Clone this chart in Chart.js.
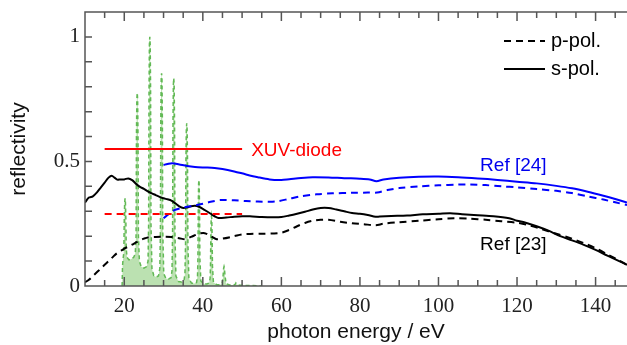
<!DOCTYPE html>
<html>
<head>
<meta charset="utf-8">
<script src="https://cdn.jsdelivr.net/npm/chart.js@4"></script>
<style>
  body { margin: 0; background: #fff; }
</style>
</head>
<body>
<canvas id="grafico" width="627" height="345"></canvas>
<script>
// reflectivity curves (photon energy in eV)
const ref23E = [10, 11, 12, 13, 14, 15, 16, 16.8, 17.5, 18.2, 19, 20, 21, 22, 23, 24, 25, 26, 27, 28, 29, 30, 31, 32, 33, 34, 35, 36, 37, 38, 39, 40, 41, 42, 43, 44, 46, 48, 50, 52, 55, 58, 60, 62, 64, 66, 68, 70, 72, 74, 76, 78, 80, 82, 84, 85, 88, 92, 96, 100, 103, 106, 110, 114, 118, 120, 122, 125, 128, 131, 134, 137, 140, 143, 146, 148];
const ref23S = [0.335, 0.355, 0.36, 0.375, 0.395, 0.415, 0.435, 0.443, 0.435, 0.427, 0.428, 0.428, 0.432, 0.425, 0.41, 0.398, 0.39, 0.38, 0.372, 0.365, 0.358, 0.352, 0.348, 0.343, 0.332, 0.32, 0.313, 0.315, 0.32, 0.322, 0.318, 0.31, 0.3, 0.29, 0.28, 0.273, 0.275, 0.278, 0.28, 0.28, 0.277, 0.276, 0.277, 0.283, 0.29, 0.298, 0.307, 0.313, 0.313, 0.307, 0.3, 0.293, 0.29, 0.285, 0.278, 0.279, 0.281, 0.283, 0.288, 0.29, 0.292, 0.288, 0.284, 0.28, 0.272, 0.262, 0.255, 0.24, 0.222, 0.2, 0.183, 0.165, 0.145, 0.122, 0.1, 0.085];

const ref23pE = [10, 11, 12, 13, 14, 15, 16, 17, 18, 19, 20, 21, 22, 23, 24, 25, 26, 28, 30, 32, 34, 35.5, 37, 39, 40.5, 42, 43.5, 45, 48, 50, 52, 55, 58, 60, 62, 64, 66, 68, 70, 72, 75, 78, 81, 84, 86, 90, 95, 100, 104, 108, 112, 116, 120, 123, 126, 130, 134, 137, 140, 143, 146, 148];
const ref23P = [0.015, 0.025, 0.04, 0.055, 0.07, 0.085, 0.1, 0.115, 0.13, 0.14, 0.15, 0.158, 0.166, 0.175, 0.183, 0.19, 0.195, 0.197, 0.198, 0.197, 0.192, 0.188, 0.197, 0.21, 0.212, 0.2, 0.188, 0.19, 0.2, 0.207, 0.209, 0.21, 0.211, 0.214, 0.225, 0.24, 0.253, 0.262, 0.266, 0.266, 0.258, 0.252, 0.248, 0.244, 0.25, 0.256, 0.262, 0.268, 0.272, 0.27, 0.266, 0.26, 0.254, 0.244, 0.23, 0.21, 0.19, 0.172, 0.152, 0.127, 0.102, 0.085];

const ref24E = [30, 31, 32.2, 34, 36, 38, 40, 43, 45, 48, 51, 54, 57, 60, 62, 65, 68, 72, 76, 80, 82.5, 84.2, 86, 90, 95, 100, 105, 110, 115, 120, 125, 130, 134, 138, 142, 145, 148];
const ref24S = [0.486, 0.49, 0.493, 0.488, 0.482, 0.478, 0.476, 0.474, 0.47, 0.46, 0.448, 0.437, 0.428, 0.426, 0.429, 0.434, 0.437, 0.436, 0.433, 0.431, 0.428, 0.421, 0.428, 0.435, 0.439, 0.44, 0.437, 0.432, 0.426, 0.419, 0.412, 0.402, 0.392, 0.378, 0.362, 0.349, 0.335];

const ref24pE = [30, 31, 32, 33, 34.4, 36, 37.7, 40, 42, 44.5, 48, 51, 54, 57, 59, 62, 65, 69, 73, 78, 82, 84.4, 87, 90, 95, 100, 105, 108, 112, 116, 120, 125, 130, 134, 138, 142, 145, 148];
const ref24P = [0.272, 0.285, 0.298, 0.306, 0.312, 0.318, 0.322, 0.33, 0.338, 0.345, 0.344, 0.341, 0.339, 0.338, 0.34, 0.35, 0.36, 0.368, 0.372, 0.374, 0.375, 0.375, 0.385, 0.393, 0.4, 0.404, 0.407, 0.408, 0.405, 0.4, 0.396, 0.389, 0.382, 0.373, 0.36, 0.347, 0.336, 0.325];

// XUV-diode
const diodeE = [15, 50];
const diodeS = [0.55, 0.55];
const diodeP = [0.289, 0.289];

// harmonic spectrum (normalised)
const specE = [19.45, 19.55, 19.7, 19.85,
    19.9, 20.0, 20.1, 20.2, 20.3, 20.4, 20.5,
    20.7, 21.2, 21.8, 22.4, 22.8,
    23.0, 23.1, 23.2, 23.3, 23.4, 23.5, 23.6,
    23.85, 24.3, 25.0, 25.7, 26.05,
    26.2, 26.3, 26.4, 26.5, 26.6, 26.7, 26.8,
    27.05, 27.5, 28.1, 28.7, 29.05,
    29.2, 29.3, 29.4, 29.5, 29.6, 29.7, 29.8,
    30.05, 30.6, 31.3, 31.9, 32.15,
    32.3, 32.4, 32.5, 32.6, 32.7, 32.8, 32.9,
    33.15, 33.8, 34.6, 35.2, 35.45,
    35.6, 35.7, 35.8, 35.9, 36.0, 36.1, 36.2,
    36.45, 37.1, 37.9, 38.4, 38.65,
    38.75, 38.85, 38.93, 39.0, 39.07, 39.15, 39.25,
    39.5, 40.2, 41.0, 41.6, 41.85,
    41.95, 42.05, 42.13, 42.2, 42.27, 42.35, 42.45,
    42.7, 43.5, 44.4, 44.9, 45.1,
    45.2, 45.3, 45.4, 45.5, 45.6,
    45.9, 46.8, 47.8, 48.2, 48.4, 48.6,
    49.5, 52, 55];
const specR = [0, 0.08, 0.11, 0.13,
    0.15, 0.27, 0.335, 0.352, 0.335, 0.27, 0.15,
    0.115, 0.105, 0.108, 0.115, 0.13,
    0.2, 0.6, 0.75, 0.776, 0.75, 0.6, 0.2,
    0.1, 0.078, 0.072, 0.078, 0.1,
    0.25, 0.78, 0.97, 1.0, 0.97, 0.78, 0.25,
    0.07, 0.042, 0.036, 0.04, 0.07,
    0.22, 0.67, 0.83, 0.854, 0.83, 0.67, 0.22,
    0.05, 0.03, 0.028, 0.033, 0.06,
    0.21, 0.65, 0.81, 0.834, 0.81, 0.65, 0.21,
    0.04, 0.018, 0.016, 0.02, 0.05,
    0.17, 0.51, 0.63, 0.653, 0.63, 0.51, 0.17,
    0.03, 0.012, 0.01, 0.014, 0.04,
    0.11, 0.33, 0.41, 0.426, 0.41, 0.33, 0.11,
    0.02, 0.009, 0.008, 0.012, 0.03,
    0.08, 0.22, 0.27, 0.28, 0.27, 0.22, 0.08,
    0.015, 0.006, 0.005, 0.01, 0.03,
    0.05, 0.072, 0.078, 0.072, 0.05,
    0.01, 0.004, 0.003, 0.006, 0.012, 0.006,
    0.003, 0.002, 0];

const xTicks = [20, 40, 60, 80, 100, 120, 140];
const yTicks = [0, 0.5, 1];

const corEixo = '#555';
const fonteSerif = 'Liberation Serif';
const fonteSans = 'Liberation Sans';

function pontos(xs, ys) {
    return xs.map((v, i) => ({ x: v, y: ys[i] }));
}

// frame, inward ticks, labels and legend
const moldura = {
    id: 'moldura',
    afterDatasetsDraw(chart) {
        const { ctx, chartArea: a, scales: { x, y } } = chart;
        ctx.save();
        ctx.strokeStyle = corEixo;
        ctx.lineWidth = 1.5;
        ctx.beginPath();
        ctx.moveTo(a.right + 2, a.top);
        ctx.lineTo(a.left, a.top);
        ctx.lineTo(a.left, a.bottom);
        ctx.lineTo(a.right + 2, a.bottom);
        for (let e = 10; e <= 148; e += 5) {
            const px = x.getPixelForValue(e);
            const len = xTicks.includes(e) ? 9 : 6;
            ctx.moveTo(px, a.bottom); ctx.lineTo(px, a.bottom - len);
            ctx.moveTo(px, a.top); ctx.lineTo(px, a.top + len);
        }
        for (let k = 1; k <= 10; k++) {
            const py = y.getPixelForValue(k / 10);
            ctx.moveTo(a.left, py); ctx.lineTo(a.left + 7, py);
        }
        ctx.stroke();

        // text labels
        ctx.textBaseline = 'middle';
        ctx.textAlign = 'left';
        ctx.font = '19px ' + fonteSans;
        ctx.fillStyle = '#ff0000';
        ctx.fillText('XUV-diode', x.getPixelForValue(52.3), y.getPixelForValue(0.542));
        ctx.fillStyle = '#0000ee';
        ctx.fillText('Ref [24]', x.getPixelForValue(110.6), y.getPixelForValue(0.482));
        ctx.fillStyle = '#000';
        ctx.fillText('Ref [23]', x.getPixelForValue(110.6), y.getPixelForValue(0.165));

        // legend
        ctx.strokeStyle = '#000';
        ctx.lineWidth = 2;
        ctx.setLineDash([7, 5]);
        ctx.beginPath(); ctx.moveTo(504, 41); ctx.lineTo(545, 41); ctx.stroke();
        ctx.setLineDash([]);
        ctx.beginPath(); ctx.moveTo(504, 69); ctx.lineTo(545, 69); ctx.stroke();
        ctx.font = '20px ' + fonteSans;
        ctx.fillText('p-pol.', 551, 41);
        ctx.fillText('s-pol.', 551, 69);
        ctx.restore();
    }
};

const ctx = document.getElementById('grafico');
new Chart(ctx, {
    type: 'line',
    data: {
        datasets: [
            { data: pontos(diodeE, diodeS), borderColor: '#ff0000', borderWidth: 2, order: 1 },
            { data: pontos(diodeE, diodeP), borderColor: '#ff0000', borderWidth: 2, borderDash: [7, 5], order: 1 },
            { data: pontos(ref24E, ref24S), borderColor: '#0000ff', borderWidth: 2, tension: 0.3, order: 2 },
            { data: pontos(ref24pE, ref24P), borderColor: '#0000ff', borderWidth: 2, borderDash: [7, 5], tension: 0.3, order: 2 },
            { data: pontos(ref23E, ref23S), borderColor: '#000', borderWidth: 2, tension: 0.3, order: 2 },
            { data: pontos(ref23pE, ref23P), borderColor: '#000', borderWidth: 2, borderDash: [7, 5], tension: 0.3, order: 2 },
            {
                data: pontos(specE, specR),
                borderColor: '#62b955',
                borderWidth: 1.5,
                borderDash: [4, 3],
                backgroundColor: 'rgba(120, 195, 100, 0.5)',
                fill: 'origin',
                tension: 0,
                order: 10
            }
        ]
    },
    options: {
        responsive: false,
        animation: false,
        devicePixelRatio: 1,
        layout: { padding: { top: 12, right: 0, left: 0, bottom: 0 } },
        elements: { point: { radius: 0 } },
        plugins: {
            legend: { display: false },
            tooltip: { enabled: false }
        },
        scales: {
            x: {
                type: 'linear',
                min: 10,
                max: 148,
                afterBuildTicks: s => { s.ticks = xTicks.map(v => ({ value: v })); },
                afterFit: s => { s.height = 59; s.paddingLeft = 0; s.paddingRight = 0; },
                grid: { display: false, drawTicks: false },
                border: { display: false },
                ticks: {
                    padding: 8,
                    color: '#222',
                    font: { family: fonteSerif, size: 21 },
                    callback: v => String(v)
                },
                title: {
                    display: true,
                    text: 'photon energy / eV',
                    color: '#111',
                    font: { family: fonteSans, size: 21 },
                    padding: { top: 0, bottom: 0 }
                }
            },
            y: {
                min: 0,
                max: 1.1,
                afterBuildTicks: s => { s.ticks = yTicks.map(v => ({ value: v })); },
                afterFit: s => { s.width = 85; s.paddingTop = 0; s.paddingBottom = 0; },
                grid: { display: false, drawTicks: false },
                border: { display: false },
                ticks: {
                    padding: 5,
                    color: '#222',
                    font: { family: fonteSerif, size: 21 },
                    callback: v => String(v)
                },
                title: {
                    display: true,
                    text: 'reflectivity',
                    color: '#111',
                    font: { family: fonteSans, size: 21 },
                    padding: { top: 7, bottom: 0 }
                }
            }
        }
    },
    plugins: [moldura]
});
</script>
</body>
</html>
